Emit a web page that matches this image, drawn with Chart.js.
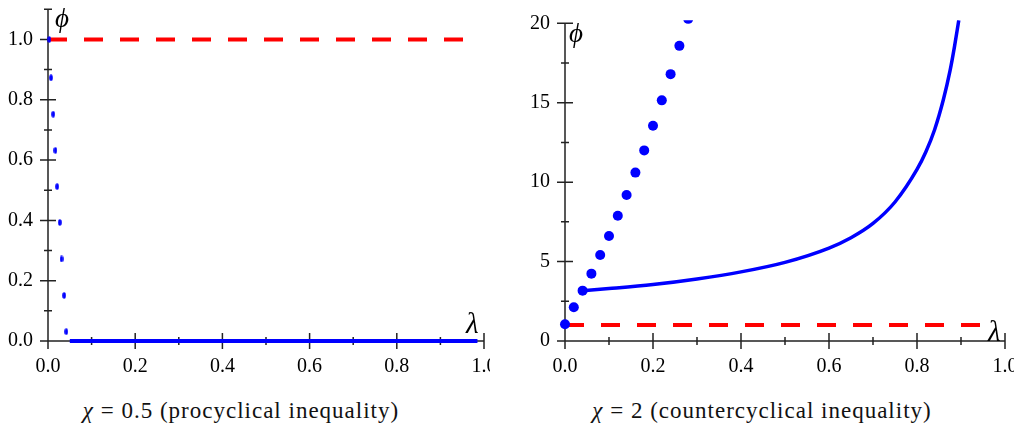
<!DOCTYPE html>
<html><head><meta charset="utf-8">
<script src="https://cdn.jsdelivr.net/npm/chart.js@4.4.0/dist/chart.umd.min.js"></script>
<style>
html,body{margin:0;padding:0;background:#fff;width:1014px;height:429px;overflow:hidden;position:relative}
#w1{position:absolute;left:0;top:0;width:490px;height:380px}
#w2{position:absolute;left:510px;top:0;width:504px;height:380px}
.lab{position:absolute;font-style:italic;color:#000;line-height:1}
.cap{position:absolute;top:399px;font-size:23px;letter-spacing:1px;text-align:center;white-space:nowrap;line-height:1;color:#111}
.cap i{font-style:italic}
</style></head><body>
<div id="w1"><canvas id="c1" width="490" height="380"></canvas></div>
<div id="w2"><canvas id="c2" width="504" height="380"></canvas></div>
<div class="lab" style="left:55px;top:5px;font-size:27px">ϕ</div>
<div class="lab" style="left:466px;top:309px;font-size:29px">λ</div>
<div class="lab" style="left:569px;top:20px;font-size:27px">ϕ</div>
<div class="lab" style="left:988px;top:317px;font-size:29px">λ</div>
<div class="cap" style="left:41px;width:400px"><i>χ</i> = 0.5 (procyclical inequality)</div>
<div class="cap" style="left:562px;width:400px"><i>χ</i> = 2 (countercyclical inequality)</div>
<script>
// ---- data ----
const leftDotsX = [0.003, 0.007, 0.012, 0.017, 0.021, 0.027, 0.031, 0.037, 0.042];
const leftDotsY = [1.0, 0.873, 0.752, 0.632, 0.512, 0.393, 0.272, 0.151, 0.031];
const leftLineX = [0.05, 0.985];
const leftLineY = [0, 0];
const leftRefX = [0, 0.98];
const leftRefY = [1, 1];

const rightDotsX = [0, 0.02, 0.04, 0.06, 0.08, 0.10, 0.12, 0.14, 0.16, 0.18, 0.20, 0.22, 0.24, 0.26, 0.28];
const rightDotsY = [1.05, 2.12, 3.17, 4.24, 5.41, 6.61, 7.89, 9.19, 10.6, 12.0, 13.55, 15.15, 16.8, 18.58, 20.28];
const rightCurveX = [0.04, 0.1, 0.2, 0.3, 0.4, 0.5, 0.6, 0.65, 0.7, 0.75, 0.8, 0.82, 0.84, 0.86, 0.875, 0.885, 0.895];
const rightCurveY = [3.17, 3.3, 3.55, 3.9, 4.35, 4.95, 5.85, 6.5, 7.4, 8.75, 10.8, 11.9, 13.3, 15.2, 17.0, 18.5, 20.2];
const rightRefX = [0, 0.96];
const rightRefY = [1, 1];

const leftXTicks = [0, 0.2, 0.4, 0.6, 0.8, 1.0];
const leftXMinor = [0.1, 0.3, 0.5, 0.7, 0.9];
const leftYTicks = [0, 0.2, 0.4, 0.6, 0.8, 1.0];
const leftYMinor = [0.1, 0.3, 0.5, 0.7, 0.9, 1.1];
const rightXTicks = [0, 0.2, 0.4, 0.6, 0.8, 1.0];
const rightXMinor = [0.1, 0.3, 0.5, 0.7, 0.9];
const rightYTicks = [0, 5, 10, 15, 20];
const rightYMinor = [2.5, 7.5, 12.5, 17.5];

const FONT = '"Liberation Serif", "Times New Roman", serif';
document.querySelectorAll('.lab, .cap').forEach(el => { el.style.fontFamily = FONT; });

const zip = (xs, ys) => xs.map((x, i) => ({x, y: ys[i]}));

const BLUE = '#0000ff', RED = '#ff0000';

const crossAxes = {
  id: 'crossAxes',
  beforeDatasetsDraw(chart, args, o) {
    const {ctx, chartArea: a, scales: {x, y}} = chart;
    const x0 = x.getPixelForValue(0), y0 = y.getPixelForValue(0);
    ctx.save();
    ctx.strokeStyle = '#222'; ctx.lineWidth = 1.5;
    ctx.beginPath();
    ctx.moveTo(x0, y0); ctx.lineTo(a.right, y0);
    ctx.moveTo(x0, y0); ctx.lineTo(x0, a.top);
    o.xMajor.forEach(v => {const p = x.getPixelForValue(v); ctx.moveTo(p, y0 - 8); ctx.lineTo(p, y0 + 8);});
    o.xMinor.forEach(v => {const p = x.getPixelForValue(v); ctx.moveTo(p, y0 - 4); ctx.lineTo(p, y0 + 4);});
    o.yMajor.forEach(v => {const p = y.getPixelForValue(v); ctx.moveTo(x0 - 8, p); ctx.lineTo(x0 + 8, p);});
    o.yMinor.forEach(v => {const p = y.getPixelForValue(v); ctx.moveTo(x0 - 4, p); ctx.lineTo(x0 + 4, p);});
    ctx.stroke();
    ctx.restore();
  }
};

function makeScales(xmax, ymax, xTicks, yTicks, yW, xH, fmtY) {
  const font = {family: FONT, size: 20};
  return {
    x: {
      type: 'linear', min: 0, max: xmax,
      grid: {display: false, drawTicks: false}, border: {display: false},
      afterBuildTicks: s => { s.ticks = xTicks.map(v => ({value: v})); },
      ticks: {padding: 14, maxRotation: 0, autoSkip: false, color: '#000', font, callback: v => v.toFixed(1)},
      afterFit: s => { s.height = xH; s.paddingLeft = 0; s.paddingRight = 0; }
    },
    y: {
      type: 'linear', min: 0, max: ymax,
      grid: {display: false, drawTicks: false}, border: {display: false},
      afterBuildTicks: s => { s.ticks = yTicks.map(v => ({value: v})); },
      ticks: {padding: 15, autoSkip: false, color: '#000', font, callback: fmtY},
      afterFit: s => { s.width = yW; s.paddingTop = 0; s.paddingBottom = 0; }
    }
  };
}

function draw() {
  // small vertical ellipse marker
  const ell = document.createElement('canvas');
  ell.width = 4; ell.height = 7;
  const ec = ell.getContext('2d'); ec.fillStyle = BLUE; ec.beginPath(); ec.ellipse(2, 3.5, 1.8, 3.3, 0, 0, Math.PI * 2); ec.fill();

  const common = {
    responsive: false, animation: false,
    plugins: {legend: {display: false}, tooltip: {enabled: false}}
  };
  const CLIP = {left: 10, top: 3, right: 10, bottom: 10};

  new Chart(document.getElementById('c1'), {
    type: 'scatter',
    data: {datasets: [
      {data: zip(leftLineX, leftLineY), showLine: true, borderColor: BLUE, borderWidth: 4, pointRadius: 0, clip: 10},
      {data: zip(leftDotsX, leftDotsY), showLine: false, pointStyle: ell, pointRadius: 3, clip: 10},
      {data: zip(leftRefX, leftRefY), showLine: true, borderColor: RED, borderWidth: 4, borderDash: [19, 17], pointRadius: 0, clip: 10}
    ]},
    options: Object.assign({}, common, {
      layout: {padding: {top: 9.3, right: 6, left: 0, bottom: 0}},
      scales: makeScales(1.0, 1.1, leftXTicks, leftYTicks, 48, 39, v => v.toFixed(1)),
      plugins: Object.assign({}, common.plugins, {crossAxes: {xMajor: leftXTicks, xMinor: leftXMinor, yMajor: leftYTicks, yMinor: leftYMinor}})
    }),
    plugins: [crossAxes]
  });

  new Chart(document.getElementById('c2'), {
    type: 'scatter',
    data: {datasets: [
      {data: zip(rightCurveX, rightCurveY), showLine: true, borderColor: BLUE, borderWidth: 3.5, pointRadius: 0, cubicInterpolationMode: 'monotone', clip: CLIP},
      {data: zip(rightDotsX, rightDotsY), showLine: false, pointStyle: 'circle', pointRadius: 5, backgroundColor: BLUE, borderColor: BLUE, borderWidth: 0, clip: CLIP},
      {data: zip(rightRefX, rightRefY), showLine: true, borderColor: RED, borderWidth: 4, borderDash: [19, 17], pointRadius: 0, clip: 10}
    ]},
    options: Object.assign({}, common, {
      layout: {padding: {top: 23.3, right: 9, left: 0, bottom: 0}},
      scales: makeScales(1.0, 20, rightXTicks, rightYTicks, 55, 39, v => String(v)),
      plugins: Object.assign({}, common.plugins, {crossAxes: {xMajor: rightXTicks, xMinor: rightXMinor, yMajor: rightYTicks, yMinor: rightYMinor}})
    }),
    plugins: [crossAxes]
  });
}

Promise.all([
  document.fonts.load('20px "Liberation Serif"'),
  document.fonts.load('italic 20px "Liberation Serif"')
]).then(draw, draw);
</script>
</body></html>
